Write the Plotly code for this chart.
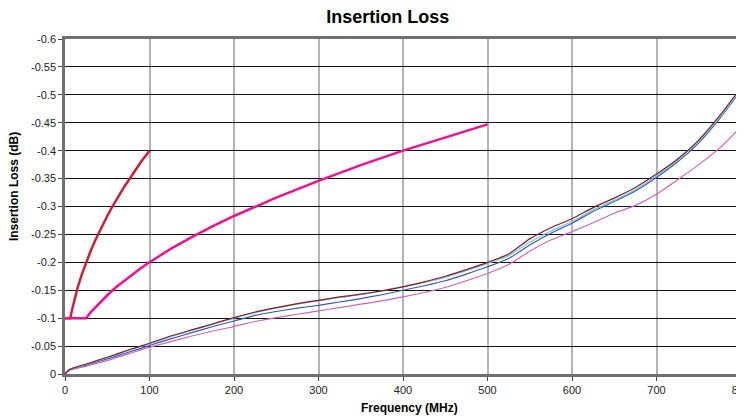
import plotly.graph_objects as go

freq = [0, 5, 25, 50, 75, 100, 125, 150, 175, 200, 225, 250, 275, 300, 325, 350, 375,
        400, 425, 450, 475, 500, 525, 550, 575, 600, 625, 650, 675, 700, 725, 750, 775, 800]
loss_red = [0, -0.008, -0.018, -0.030, -0.043, -0.055, -0.068, -0.079, -0.090, -0.101,
            -0.111, -0.119, -0.126, -0.132, -0.138, -0.143, -0.149, -0.156, -0.165, -0.175,
            -0.187, -0.200, -0.215, -0.242, -0.262, -0.278, -0.298, -0.315, -0.334, -0.358,
            -0.385, -0.419, -0.463, -0.513]
loss_cyan = [0, -0.008, -0.017, -0.029, -0.042, -0.054, -0.067, -0.078, -0.089, -0.100,
             -0.110, -0.118, -0.125, -0.131, -0.137, -0.142, -0.149, -0.157, -0.164, -0.173,
             -0.185, -0.198, -0.212, -0.236, -0.256, -0.273, -0.294, -0.311, -0.330, -0.355,
             -0.383, -0.417, -0.460, -0.510]
loss_blue = [0, -0.007, -0.016, -0.027, -0.039, -0.051, -0.063, -0.074, -0.085, -0.095,
             -0.105, -0.112, -0.118, -0.123, -0.129, -0.135, -0.142, -0.150, -0.158, -0.167,
             -0.179, -0.192, -0.207, -0.231, -0.252, -0.270, -0.291, -0.309, -0.328, -0.352,
             -0.380, -0.414, -0.458, -0.508]
loss_magenta = [0, -0.006, -0.014, -0.024, -0.036, -0.048, -0.058, -0.068, -0.077, -0.085,
                -0.094, -0.101, -0.107, -0.113, -0.119, -0.125, -0.131, -0.138, -0.146, -0.155,
                -0.167, -0.180, -0.196, -0.220, -0.240, -0.255, -0.271, -0.288, -0.302, -0.322,
                -0.348, -0.375, -0.405, -0.443]

# limit lines
limit_a_freq = [0, 6.25, 8, 10, 15, 20, 25, 30, 35, 40, 45, 50, 55, 60, 65, 70, 75, 80,
                85, 90, 95, 100]
limit_a_loss = [-0.1, -0.1, -0.113, -0.126, -0.155, -0.179, -0.2, -0.219, -0.237, -0.253,
                -0.268, -0.283, -0.297, -0.31, -0.322, -0.335, -0.346, -0.358, -0.369,
                -0.38, -0.39, -0.4]
limit_b_freq = [0, 25, 30, 40, 50, 60, 75, 90, 100, 125, 150, 175, 200, 250, 300, 350,
                400, 450, 500]
limit_b_loss = [-0.1, -0.1, -0.11, -0.126, -0.141, -0.155, -0.173, -0.19, -0.2, -0.224,
                -0.245, -0.265, -0.283, -0.316, -0.346, -0.374, -0.4, -0.424, -0.447]

y_ticks = [0, -0.05, -0.1, -0.15, -0.2, -0.25, -0.3, -0.35, -0.4, -0.45, -0.5, -0.55, -0.6]
y_labels = ["0", "-0.05", "-0.1", "-0.15", "-0.2", "-0.25", "-0.3", "-0.35", "-0.4",
            "-0.45", "-0.5", "-0.55", "-0.6"]

FONT = "Liberation Sans, Arial, sans-serif"

fig = go.Figure()
for values, color in [
    (loss_magenta, "#c967bd"),
    (loss_blue, "#3a58b0"),
    (loss_cyan, "#6cc9dc"),
    (loss_red, "#8e1b22"),
]:
    fig.add_trace(
        go.Scatter(x=freq, y=values, mode="lines",
                   line={"color": color, "width": 1.2, "shape": "spline", "smoothing": 0.6})
    )

fig.add_trace(
    go.Scatter(x=limit_a_freq, y=limit_a_loss, mode="lines",
               line={"color": "#c91f38", "width": 2.5})
)
fig.add_trace(
    go.Scatter(x=limit_b_freq, y=limit_b_loss, mode="lines",
               line={"color": "#f0128c", "width": 2.5})
)

# page body has an 8px margin, so the figure is shrunk and shifted to compensate
fig.update_layout(
    width=736,
    height=410,
    margin={"l": 57, "r": 3, "t": 31, "b": 44},
    paper_bgcolor="white",
    plot_bgcolor="white",
    showlegend=False,
    font={"family": FONT, "size": 11, "color": "#222"},
    title={
        "text": "<b>Insertion Loss</b>",
        "font": {"family": FONT, "size": 18, "color": "black"},
        "xref": "container",
        "x": 0.516,
        "xanchor": "center",
        "y": 0.98,
        "yanchor": "middle",
    },
    xaxis={
        "range": [0, 800],
        "dtick": 100,
        "tick0": 0,
        "automargin": False,
        "showgrid": True,
        "gridcolor": "#b4b4b4",
        "gridwidth": 1.5,
        "zeroline": False,
        "showline": True,
        "linecolor": "#707070",
        "linewidth": 2.5,
        "mirror": True,
        "ticks": "outside",
        "ticklen": 4,
        "tickcolor": "#444",
        "ticklabeloverflow": "allow",
    },
    yaxis={
        "range": [0, -0.6],
        "tickvals": y_ticks,
        "ticktext": y_labels,
        "automargin": False,
        "showgrid": True,
        "gridcolor": "#111",
        "gridwidth": 1.2,
        "zeroline": False,
        "showline": True,
        "linecolor": "#707070",
        "linewidth": 2.5,
        "mirror": True,
        "ticks": "outside",
        "ticklen": 4,
        "tickcolor": "#444",
    },
    annotations=[
        {
            "text": "<b>Insertion Loss (dB)</b>",
            "xref": "paper", "yref": "paper",
            "x": -0.0754, "y": 0.558,
            "xanchor": "center", "yanchor": "middle",
            "textangle": -90, "showarrow": False,
            "font": {"family": FONT, "size": 12, "color": "black"},
        },
        {
            "text": "<b>Frequency (MHz)</b>",
            "xref": "paper", "yref": "paper",
            "x": 0.510, "y": -0.1015,
            "xanchor": "center", "yanchor": "middle",
            "showarrow": False,
            "font": {"family": FONT, "size": 12, "color": "black"},
        },
    ],
)

fig.write_html("out.html")
